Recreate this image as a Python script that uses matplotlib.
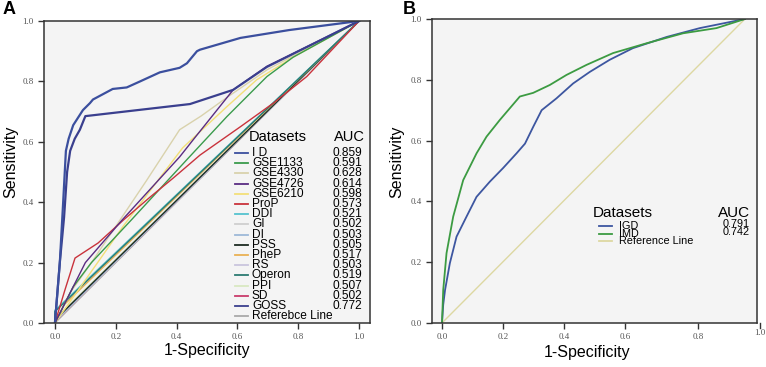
import matplotlib
matplotlib.use("Agg")
import matplotlib.pyplot as plt
from matplotlib.lines import Line2D

W, H = 766, 367
SANS = ["Liberation Sans", "DejaVu Sans"]
SERIF = ["Liberation Serif", "DejaVu Serif"]

# ---- panel A data ----
a_names = ["I D", "GSE1133", "GSE4330", "GSE4726", "GSE6210", "ProP", "DDI", "GI",
           "DI", "PSS", "PheP", "RS", "Operon", "PPI", "SD", "GOSS", "Referebce Line"]
a_auc = ["0.859", "0.591", "0.628", "0.614", "0.598", "0.573", "0.521", "0.502",
         "0.503", "0.505", "0.517", "0.503", "0.519", "0.507", "0.502", "0.772", ""]
a_colors = ["#3b4f9e", "#3a9b4c", "#d9d2ac", "#5a2c82", "#f3df78", "#c9333c", "#55c3cf",
            "#cfcfcf", "#9db9d8", "#1d2b22", "#e9b154", "#c9c5dd", "#2b7b72", "#d9e8c2",
            "#c93c6b", "#3a3f8e", "#a9a9a9"]

a_x = {
    "I D": [0, 0.008, 0.016, 0.027, 0.036, 0.045, 0.06, 0.092, 0.115, 0.125, 0.19, 0.236,
            0.28, 0.345, 0.41, 0.434, 0.467, 0.477, 0.61, 0.77, 1.0],
    "GOSS": [0, 0.008, 0.016, 0.03, 0.04, 0.05, 0.065, 0.082, 0.1, 0.444, 0.586, 0.697, 1.0],
    "GSE1133": [0, 0.06, 0.12, 0.25, 0.433, 0.565, 0.697, 0.783, 1.0],
    "GSE4330": [0, 0.05, 0.12, 0.22, 0.3, 0.41, 0.48, 0.57, 0.7, 1.0],
    "GSE4726": [0, 0.05, 0.1, 0.22, 0.41, 0.454, 0.586, 0.697, 1.0],
    "GSE6210": [0, 0.06, 0.224, 0.42, 0.565, 0.663, 0.783, 1.0],
    "ProP": [0, 0.033, 0.066, 0.142, 0.224, 0.313, 0.389, 0.477, 0.61, 0.718, 0.828, 1.0],
    "DDI": [0, 0, 1.0],
    "GI": [0, 0, 1.0],
    "DI": [0, 0, 1.0],
    "PSS": [0, 0, 1.0],
    "PheP": [0, 0.03, 1.0],
    "RS": [0, 0, 1.0],
    "Operon": [0, 0, 1.0],
    "PPI": [0, 0, 1.0],
    "SD": [0, 0, 1.0],
    "Referebce Line": [0, 1.0],
}
a_y = {
    "I D": [0, 0.1, 0.2, 0.4, 0.57, 0.61, 0.655, 0.705, 0.728, 0.74, 0.775, 0.78,
            0.80, 0.83, 0.845, 0.86, 0.90, 0.905, 0.944, 0.97, 1.0],
    "GOSS": [0, 0.1, 0.2, 0.35, 0.5, 0.57, 0.61, 0.64, 0.685, 0.725, 0.772, 0.848, 1.0],
    "GSE1133": [0, 0.12, 0.2, 0.34, 0.54, 0.683, 0.816, 0.88, 1.0],
    "GSE4330": [0, 0.1, 0.2, 0.35, 0.47, 0.64, 0.685, 0.75, 0.84, 1.0],
    "GSE4726": [0, 0.1, 0.2, 0.34, 0.55, 0.606, 0.772, 0.85, 1.0],
    "GSE6210": [0, 0.085, 0.32, 0.58, 0.716, 0.805, 0.88, 1.0],
    "ProP": [0, 0.11, 0.215, 0.265, 0.34, 0.417, 0.48, 0.556, 0.65, 0.728, 0.816, 1.0],
    "DDI": [0, 0.042, 1.0],
    "GI": [0, 0.004, 1.0],
    "DI": [0, 0.006, 1.0],
    "PSS": [0, 0.01, 1.0],
    "PheP": [0, 0.06, 1.0],
    "RS": [0, 0.006, 1.0],
    "Operon": [0, 0.038, 1.0],
    "PPI": [0, 0.014, 1.0],
    "SD": [0, 0.004, 1.0],
    "Referebce Line": [0, 1.0],
}

# ---- panel B data ----
b_names = ["IGD", "IMD", "Reference Line"]
b_auc = ["0.791", "0.742", ""]
b_colors = ["#3d56a0", "#3c9b42", "#ddd8a2"]
b_x = {
    "IGD": [0, 0.004, 0.01, 0.026, 0.048, 0.081, 0.114, 0.158, 0.202, 0.246, 0.274, 0.301,
            0.329, 0.378, 0.433, 0.488, 0.554, 0.63, 0.742, 0.851, 1.0],
    "IMD": [0, 0.004, 0.015, 0.037, 0.07, 0.114, 0.147, 0.191, 0.257, 0.301, 0.356, 0.411,
            0.477, 0.565, 0.675, 0.796, 0.906, 1.0],
    "Reference Line": [0, 1.0],
}
b_y = {
    "IGD": [0, 0.06, 0.108, 0.197, 0.284, 0.35, 0.415, 0.465, 0.51, 0.558, 0.59, 0.645,
            0.70, 0.739, 0.788, 0.826, 0.866, 0.904, 0.941, 0.97, 1.0],
    "IMD": [0, 0.108, 0.23, 0.35, 0.47, 0.558, 0.613, 0.668, 0.745, 0.757, 0.783, 0.816,
            0.849, 0.888, 0.92, 0.953, 0.97, 1.0],
    "Reference Line": [0, 1.0],
}
b_tick_pos = [0, 0.203, 0.403, 0.604, 0.845]
b_tick_lab = ["0.0", "0.2", "0.4", "0.6", "0.8"]


def fx(px):
    return px / W


def fy(py):
    return 1 - py / H


def style_axes(ax):
    ax.set_facecolor("#f4f4f4")
    for s in ax.spines.values():
        s.set_color("#333333")
        s.set_linewidth(1.1)
    ax.tick_params(direction="out", length=4.5, width=1, color="#333333",
                   labelsize=6.5, labelcolor="#555555", pad=3)
    ax.set_ylim(0, 1)
    ax.set_yticks([0, 0.2, 0.4, 0.6, 0.8, 1.0])
    ax.set_yticklabels(["0.0", "0.2", "0.4", "0.6", "0.8", "1.0"], family=SERIF)


fig = plt.figure(figsize=(W / 100, H / 100), dpi=100)
fig.patch.set_facecolor("white")

# ---- panel A ----
axA = fig.add_axes([fx(44), fy(323), fx(370) - fx(44), fy(21) - fy(323)])
draw_order = ["Referebce Line", "SD", "GI", "RS", "DI", "PPI", "PSS", "PheP", "DDI",
              "Operon", "GSE4330", "GSE6210", "GSE1133", "ProP", "GSE4726", "GOSS", "I D"]
for name in draw_order:
    i = a_names.index(name)
    lw = 1.6 if name in ("I D", "GOSS") else 1.0
    axA.plot(a_x[name], a_y[name], color=a_colors[i], lw=lw, solid_joinstyle="round")
axA.set_xlim(-0.036, 1.036)
axA.set_xticks([0, 0.2, 0.4, 0.6, 0.8, 1.0])
axA.set_xticklabels(["0.0", "0.2", "0.4", "0.6", "0.8", "1.0"], family=SERIF)
style_axes(axA)

fig.text(fx(249), fy(137), "Datasets", family=SANS, fontsize=10.5, va="center", ha="left")
fig.text(fx(365), fy(137), "AUC", family=SANS, fontsize=10.5, va="center", ha="right")
for i, name in enumerate(a_names):
    yy = 153 + 10.2 * i
    fig.add_artist(Line2D([fx(235), fx(248)], [fy(yy), fy(yy)], color=a_colors[i], lw=1.3))
    fig.text(fx(252), fy(yy), name, family=SANS, fontsize=8.6, va="center", ha="left")
    if a_auc[i]:
        fig.text(fx(362), fy(yy), a_auc[i], family=SANS, fontsize=8.6, va="center", ha="right")

fig.text(fx(11), fy(162), "Sensitivity", family=SANS, fontsize=11.5, rotation=90,
         va="center", ha="center")
fig.text(fx(207), fy(350), "1-Specificity", family=SANS, fontsize=11.5, va="center", ha="center")
fig.text(fx(3), fy(9), "A", family=SANS, fontsize=13, fontweight="bold", va="center", ha="left")

# ---- panel B ----
axB = fig.add_axes([fx(432), fy(323), fx(757) - fx(432), fy(19) - fy(323)])
for name in ["Reference Line", "IGD", "IMD"]:
    i = b_names.index(name)
    axB.plot(b_x[name], b_y[name], color=b_colors[i], lw=1.3 if i < 2 else 1.0,
             solid_joinstyle="round")
axB.set_xlim(-0.033, 1.04)
axB.set_xticks(b_tick_pos)
axB.set_xticklabels(b_tick_lab, family=SERIF)
style_axes(axB)
# the last tick sits just outside the frame
fig.add_artist(Line2D([fx(760), fx(760)], [fy(323), fy(327.5)], color="#333333", lw=1))
fig.text(fx(760), fy(333), "1.0", family=SERIF, fontsize=6.5, color="#555555",
         va="center", ha="center")

fig.text(fx(593), fy(213), "Datasets", family=SANS, fontsize=11, va="center", ha="left")
fig.text(fx(750), fy(213), "AUC", family=SANS, fontsize=11, va="center", ha="right")
for i, name in enumerate(b_names):
    yy = 226 + 7.6 * i
    fig.add_artist(Line2D([fx(599), fx(612)], [fy(yy), fy(yy)], color=b_colors[i], lw=1.3))
    fig.text(fx(619), fy(yy), name, family=SANS, fontsize=7.8, va="center", ha="left")
    if b_auc[i]:
        fig.text(fx(750), fy(yy - 2), b_auc[i], family=SANS, fontsize=7.8, va="center", ha="right")

fig.text(fx(397), fy(162), "Sensitivity", family=SANS, fontsize=11.5, rotation=90,
         va="center", ha="center")
fig.text(fx(587), fy(352), "1-Specificity", family=SANS, fontsize=11.5, va="center", ha="center")
fig.text(fx(403), fy(9), "B", family=SANS, fontsize=13, fontweight="bold", va="center", ha="left")

fig.savefig("out.png", dpi=100)
